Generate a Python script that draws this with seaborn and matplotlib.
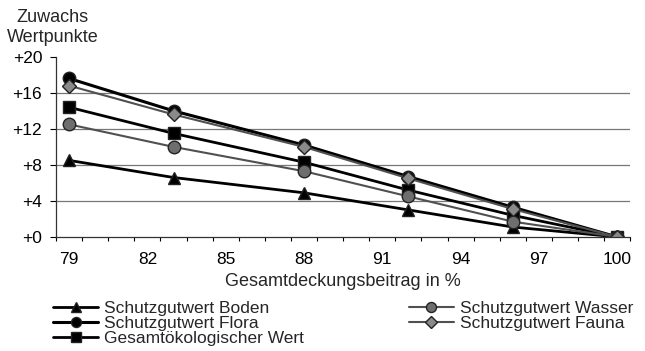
import matplotlib
matplotlib.use("Agg")
import matplotlib.pyplot as plt
import seaborn as sns
import numpy as np

deckung = [79, 83, 88, 92, 96, 100]
boden = [8.5, 6.6, 4.9, 3.0, 1.1, 0.0]
flora = [17.6, 14.0, 10.2, 6.7, 3.3, 0.0]
gesamt = [14.4, 11.5, 8.3, 5.2, 2.4, 0.0]
wasser = [12.5, 10.0, 7.3, 4.5, 1.7, 0.0]
fauna = [16.8, 13.6, 10.0, 6.5, 3.1, 0.0]

y_ticks = [0, 4, 8, 12, 16, 20]
x_ticks = [79, 82, 85, 88, 91, 94, 97, 100]

sns.set_style("white")
plt.rcParams['font.family'] = ['Liberation Sans', 'DejaVu Sans']

fig, ax = plt.subplots(figsize=(6.45, 3.51), dpi=100)
fig.subplots_adjust(left=0.087, right=0.977, top=0.838, bottom=0.325)

# Linien: (Werte, Label, Linienfarbe, Marker, Markerfarbe, Linienbreite)
serien = [
    (boden, "Schutzgutwert Boden", "black", "^", "black", 2.0),
    (flora, "Schutzgutwert Flora", "black", "o", "black", 2.2),
    (gesamt, "Gesamtökologischer Wert", "black", "s", "black", 2.0),
    (wasser, "Schutzgutwert Wasser", "#505050", "o", "#6e6e6e", 1.5),
    (fauna, "Schutzgutwert Fauna", "#505050", "D", "#8a8a8a", 1.5),
]
for werte, label, farbe, marker, mfarbe, lw in serien:
    sns.lineplot(x=deckung, y=werte, ax=ax, color=farbe, marker=marker,
                 markersize=9 if marker != "D" else 7.5, markerfacecolor=mfarbe,
                 markeredgecolor="#222222", markeredgewidth=1.0,
                 linewidth=lw, label=label)

# Kategorienachse wie in Excel: Teilstriche zwischen den Kategorien
ax.set_xlim(78.5, 100.5)
ax.set_ylim(0, 20)
ax.set_xticks(x_ticks)
ax.set_xticks(np.arange(78.5, 101, 1), minor=True)
ax.set_yticks(y_ticks)
ax.set_yticklabels(["+%d" % v for v in y_ticks])
ax.tick_params(axis="y", labelsize=12.5, direction="out", length=4, width=0.8,
               pad=6, colors="black", left=True)
ax.tick_params(axis="x", which="major", labelsize=12.5, length=0, pad=11,
               colors="black", bottom=True)
ax.tick_params(axis="x", which="minor", direction="out", length=3, width=0.8,
               color="black", bottom=True)

for v in y_ticks[1:-1]:
    ax.axhline(v, color="#777777", linewidth=0.9, zorder=0)

for side in ["top", "right"]:
    ax.spines[side].set_visible(False)
for side in ["left", "bottom"]:
    ax.spines[side].set_color("#333333")
    ax.spines[side].set_linewidth(0.9)

ax.set_xlabel("Gesamtdeckungsbeitrag in %", fontsize=13, labelpad=4)
ax.set_ylabel("")
fig.text(0.082, 0.949, "Zuwachs", fontsize=13, ha="center", va="center")
fig.text(0.082, 0.893, "Wertpunkte", fontsize=13, ha="center", va="center")

ax.legend(loc="upper left", bbox_to_anchor=(-0.005, -0.355), ncol=2, frameon=False,
          fontsize=12.5, handlelength=2.6, columnspacing=6.0, labelspacing=0.0,
          handletextpad=0.35, borderaxespad=0, borderpad=0, markerscale=0.8)

fig.savefig("out.png", dpi=100)
